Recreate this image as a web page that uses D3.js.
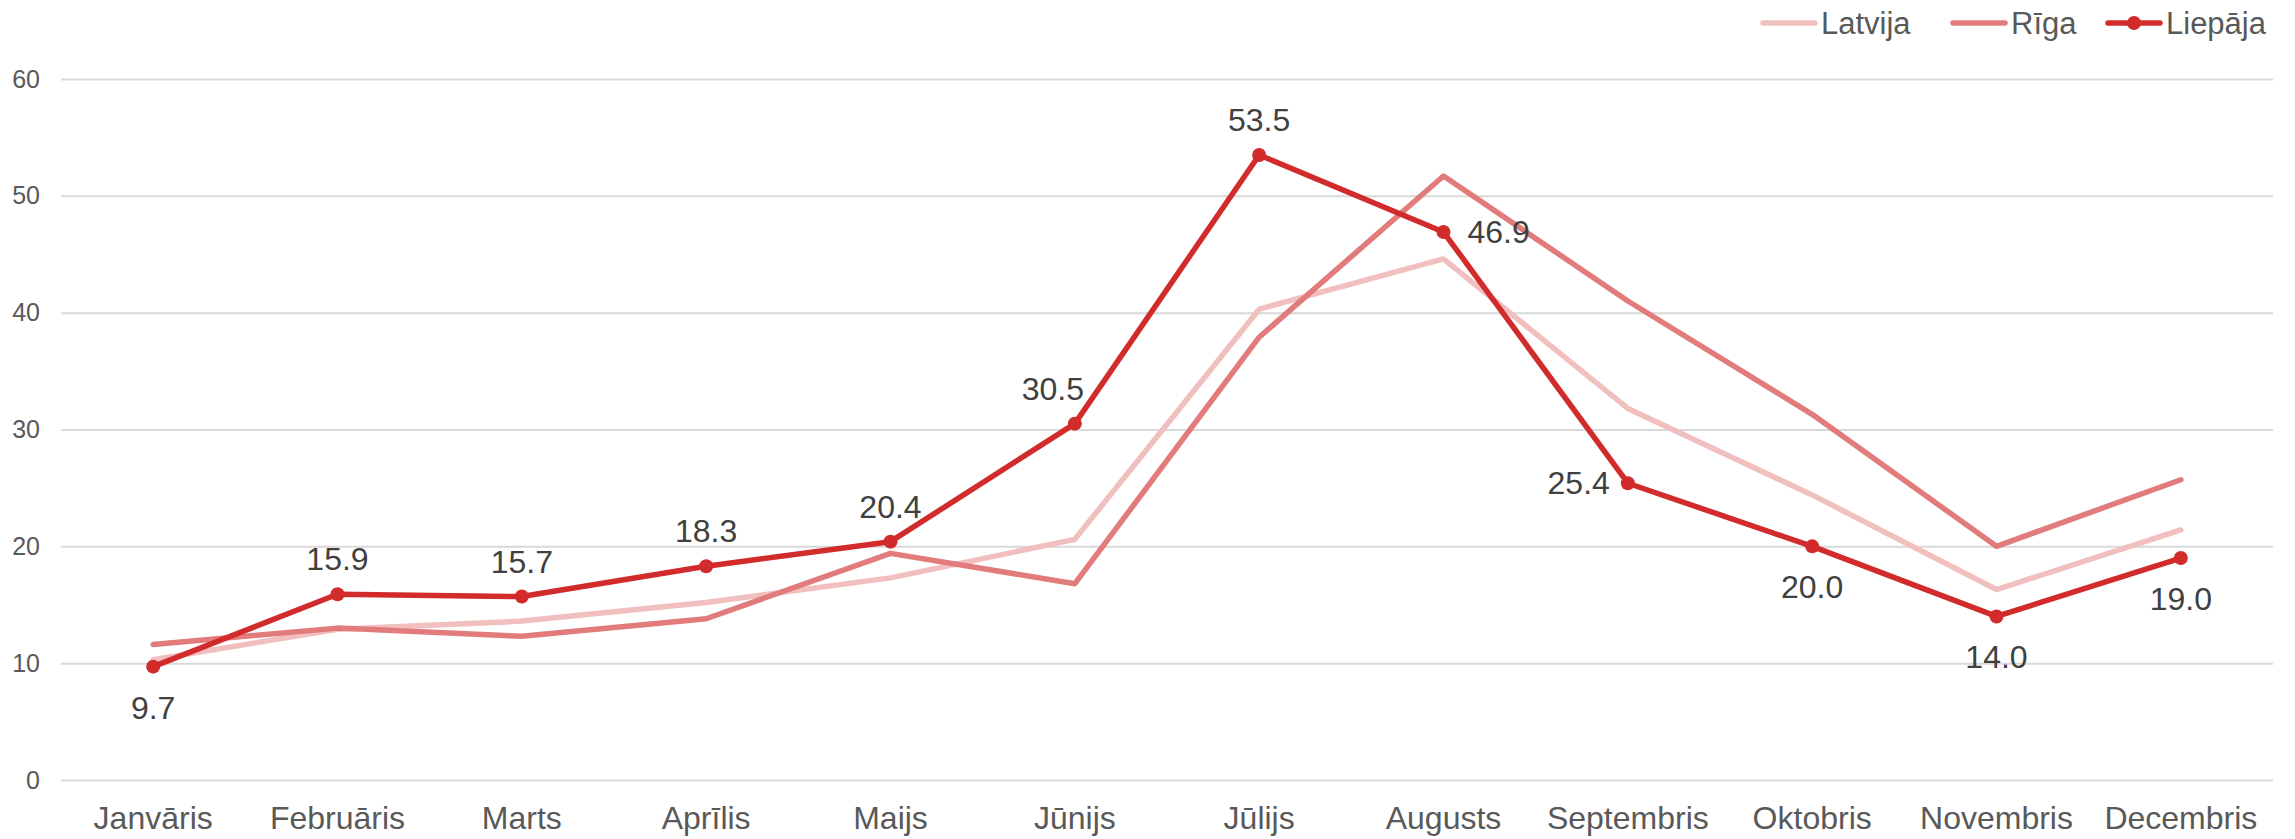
<!DOCTYPE html>
<html>
<head>
<meta charset="utf-8">
<script src="https://cdn.jsdelivr.net/npm/d3@7"></script>
<style>
  body { margin: 0; background: #fff; }
  svg { display: block; font-family: "Liberation Sans", Arial, sans-serif; }
</style>
</head>
<body>
<div id="chart"></div>
<script>
// Chart data
const months = ["Janvāris", "Februāris", "Marts", "Aprīlis", "Maijs", "Jūnijs",
                "Jūlijs", "Augusts", "Septembris", "Oktobris", "Novembris", "Decembris"];
const latvija = [10.3, 12.9, 13.6, 15.2, 17.3, 20.6, 40.3, 44.6, 31.8, 24.4, 16.3, 21.4];
const riga    = [11.6, 13.0, 12.3, 13.8, 19.4, 16.8, 37.9, 51.7, 41.0, 31.3, 20.0, 25.7];
const liepaja = [9.7, 15.9, 15.7, 18.3, 20.4, 30.5, 53.5, 46.9, 25.4, 20.0, 14.0, 19.0];
const yTicks  = [0, 10, 20, 30, 40, 50, 60];

// where each Liepāja value label sits relative to its point
const labelSide = ["below", "above", "above", "above", "above", "aboveleft",
                   "above", "right", "left", "below", "below", "below"];

const width = 2295, height = 839;
const margin = {top: 79, right: 22, bottom: 59, left: 61};

const svg = d3.select("#chart")
    .append("svg")
    .attr("width", width)
    .attr("height", height);

const x = d3.scaleBand()
    .domain(months)
    .range([margin.left, width - margin.right])
    .padding(0);

const y = d3.scaleLinear()
    .domain([0, 60])
    .range([height - margin.bottom, margin.top]);

const cx = m => x(m) + x.bandwidth() / 2;

// Gridlines + y labels
const yAxis = svg.append("g")
    .attr("transform", `translate(${margin.left},0)`)
    .call(d3.axisLeft(y)
        .tickValues(yTicks)
        .tickSize(-(width - margin.left - margin.right))
        .tickPadding(21));
yAxis.select(".domain").remove();
yAxis.selectAll(".tick line")
    .attr("stroke", "#d9d9d9")
    .attr("stroke-width", 2);
yAxis.selectAll(".tick text")
    .attr("fill", "#595959")
    .style("font-size", "25px");

// Month labels
const xAxis = svg.append("g")
    .attr("transform", `translate(0,${height - margin.bottom})`)
    .call(d3.axisBottom(x).tickSize(0).tickPadding(26));
xAxis.select(".domain").remove();
xAxis.selectAll(".tick text")
    .attr("fill", "#595959")
    .style("font-size", "32px");

const series = [
    {name: "Latvija", values: latvija, color: "#f2bfbf", dots: false},
    {name: "Rīga",    values: riga,    color: "#e27c7c", dots: false},
    {name: "Liepāja", values: liepaja, color: "#d22b2b", dots: true}
];

const line = d3.line()
    .x((d, i) => cx(months[i]))
    .y(d => y(d));

series.forEach(s => {
    svg.append("path")
        .datum(s.values)
        .attr("fill", "none")
        .attr("stroke", s.color)
        .attr("stroke-width", 5.5)
        .attr("stroke-linejoin", "round")
        .attr("stroke-linecap", "round")
        .attr("d", line);

    if (s.dots) {
        svg.append("g")
            .selectAll("circle")
            .data(s.values)
            .enter()
            .append("circle")
            .attr("cx", (d, i) => cx(months[i]))
            .attr("cy", d => y(d))
            .attr("r", 7)
            .attr("fill", s.color);
    }
});

// Value labels for Liepāja
const fmt = d3.format(".1f");
svg.append("g")
    .selectAll("text")
    .data(liepaja)
    .enter()
    .append("text")
    .attr("x", (d, i) => {
        const side = labelSide[i];
        if (side === "right") return cx(months[i]) + 24;
        if (side === "left") return cx(months[i]) - 18;
        if (side === "aboveleft") return cx(months[i]) - 22;
        return cx(months[i]);
    })
    .attr("y", (d, i) => {
        const side = labelSide[i];
        if (side === "above" || side === "aboveleft") return y(d) - 24;
        if (side === "below") return y(d) + 52;
        return y(d) + 11;
    })
    .attr("text-anchor", (d, i) => labelSide[i] === "right" ? "start" : labelSide[i] === "left" ? "end" : "middle")
    .attr("fill", "#404040")
    .style("font-size", "32px")
    .text(d => fmt(d));

// Legend
const legendItems = [
    {s: series[0], x: 1761},
    {s: series[1], x: 1951},
    {s: series[2], x: 2106}
];
const legend = svg.append("g");
legendItems.forEach(item => {
    const g = legend.append("g").attr("transform", `translate(${item.x},23)`);
    g.append("line")
        .attr("x1", 2).attr("x2", 54)
        .attr("stroke", item.s.color)
        .attr("stroke-width", 5.5)
        .attr("stroke-linecap", "round");
    if (item.s.dots) {
        g.append("circle").attr("cx", 28).attr("r", 7).attr("fill", item.s.color);
    }
    g.append("text")
        .attr("x", 60)
        .attr("y", 11)
        .attr("fill", "#595959")
        .style("font-size", "31px")
        .text(item.s.name);
});
</script>
</body>
</html>
